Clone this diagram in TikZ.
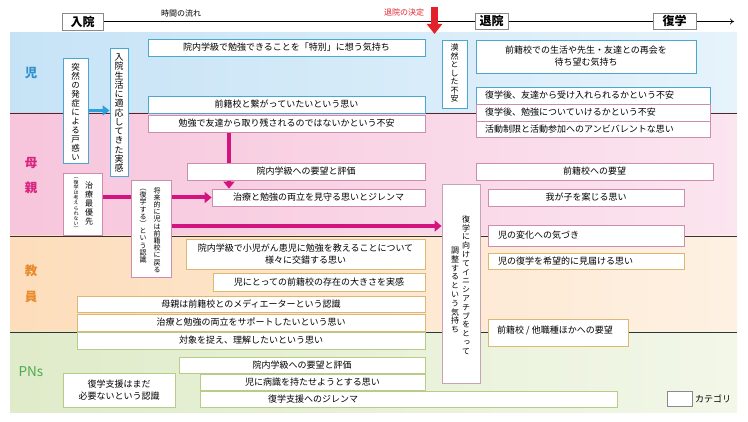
\documentclass[tikz,border=0pt]{standalone}
\usepackage{fontspec}
\setmainfont{Noto Sans CJK JP}
\newfontfamily\vjp[RawFeature=+vert]{Noto Sans CJK JP}
\usetikzlibrary{arrows.meta}
\definecolor{cBlueBandA}{HTML}{C6E3F6}
\definecolor{cBlueBandB}{HTML}{E6F3FB}
\definecolor{cPinkBandA}{HTML}{F7C5DC}
\definecolor{cPinkBandB}{HTML}{FBE5EF}
\definecolor{cOrBandA}{HTML}{FDDDBB}
\definecolor{cOrBandB}{HTML}{FEF1E3}
\definecolor{cGrBandA}{HTML}{DFEBC9}
\definecolor{cGrBandB}{HTML}{F2F7E8}
\definecolor{cBlueB}{HTML}{4BA7D0}
\definecolor{cPinkB}{HTML}{CC8DAE}
\definecolor{cOrB}{HTML}{DDB873}
\definecolor{cGrB}{HTML}{B7CC86}
\definecolor{cTall}{HTML}{C8A3B6}
\definecolor{cMag}{HTML}{D4147E}
\definecolor{cBlueA}{HTML}{2BA0DC}
\definecolor{cRed}{HTML}{E3212B}
\definecolor{cLblBlue}{HTML}{2E90CC}
\definecolor{cLblPink}{HTML}{D8237F}
\definecolor{cLblOr}{HTML}{E88A2C}
\definecolor{cLblGr}{HTML}{4DAA4D}
\definecolor{cGrayB}{HTML}{8A8A8A}
\makeatletter
\def\vt@loop#1{\ifx\relax#1\else\hbox to 1em{\hss#1\hss}\expandafter\vt@loop\fi}
\newcommand\vcol[2]{\vbox{\baselineskip=#1\lineskip=0pt\lineskiplimit=-\maxdimen\vt@loop#2\relax}}
\makeatother
\newcommand\bx[7][]{\node[box,#1,minimum width={(#5-#3)*1pt},minimum height={(#6-#4)*1pt}] (#2) at ({(#3+#5)/2},{(#4+#6)/2}) {#7};}
\pgfdeclarelayer{bg}
\pgfdeclarelayer{mid}
\pgfsetlayers{bg,mid,main}
\tikzset{
  box/.style={draw, fill=white, line width=0.8pt, inner sep=0pt, align=center, font=\fontsize{9}{12}\selectfont},
  bb/.style={draw=cBlueB},
  pb/.style={draw=cPinkB},
  ob/.style={draw=cOrB},
  gb/.style={draw=cGrB},
  tb/.style={draw=cGrayB, font=\fontsize{12}{12}\bfseries\selectfont},
  lbl/.style={anchor=west, inner sep=0pt, font=\fontsize{9}{12}\selectfont},
  vtx/.style={inner sep=0pt},
  band/.style={font=\fontsize{12.5}{13}\bfseries\selectfont, inner sep=0pt},
  sep/.style={draw=black!80, line width=0.7pt},
  marrow/.style={draw=cMag, line width=4pt, -{Triangle[length=7pt,width=11pt]}},
  barrow/.style={draw=cBlueA, line width=3.5pt, -{Triangle[length=7pt,width=10pt]}},
}
\begin{document}
\begin{tikzpicture}[x=1pt,y=-1pt]
\useasboundingbox (0,0) rectangle (748,422);
% bands
\begin{pgfonlayer}{bg}
\shade[left color=cBlueBandA, right color=cBlueBandB] (10,33) rectangle (737,113);
\shade[left color=cPinkBandA, right color=cPinkBandB] (10,113) rectangle (737,236);
\shade[left color=cOrBandA, right color=cOrBandB] (10,236) rectangle (737,332);
\shade[left color=cGrBandA, right color=cGrBandB] (10,332) rectangle (737,413);
\draw[sep] (10,113) -- (737,113);
\draw[sep] (10,236) -- (737,236);
\draw[sep] (10,332) -- (737,332);
\end{pgfonlayer}
% band labels
\node[band, text=cLblBlue] (lj) at (31,73) {児};
\node[band, text=cLblPink] (lm1) at (31,163) {母};
\node[band, text=cLblPink] (lm2) at (31,188) {親};
\node[band, text=cLblOr] (lk1) at (31,271) {教};
\node[band, text=cLblOr] (lk2) at (31,297) {員};
\node[band, text=cLblGr, font=\fontsize{13.5}{14}\selectfont] (lp) at (31,372) {PNs};
% timeline
\bx[tb]{nyuin}{62}{13}{103}{30}{入院}
\bx[tb]{taiin}{475}{13}{508}{29}{退院}
\bx[tb]{fukugaku}{653}{13}{696}{29}{復学}
\coordinate (tlend) at (734,21.5);
\begin{pgfonlayer}{mid}
\draw[line width=0.6pt, -{To[length=4pt,width=6pt]}] (nyuin.east) -- (tlend);
\end{pgfonlayer}
\node[font=\fontsize{8}{9}\selectfont, inner sep=0pt] (flow) at (181,13) {時間の流れ};
\node[font=\fontsize{8}{9}\selectfont, inner sep=0pt, text=cRed] (kettei) at (404,12.5) {退院の決定};
\coordinate (r0) at (434.5,7);
\coordinate (r1) at (434.5,34);
\draw[line width=7pt, draw=cRed, -{Triangle[length=10pt,width=15pt]}] (r0) -- (r1);
% child band boxes
\bx[bb]{b1}{63}{58}{88}{163}{}
\node[vtx, font=\vjp\fontsize{8.5}{9}\selectfont] (t1) at (75.5,112) {\vcol{9pt}{突然の発症による戸惑い}};
\bx[bb]{b2}{110}{48}{128}{176}{}
\node[vtx, font=\vjp\fontsize{9}{9}\selectfont] (t2) at (119,113) {\vcol{9.25pt}{入院生活に適応してきた実感}};
\bx[bb]{b3}{148}{39}{425}{56}{院内学級で勉強できることを「特別」に想う気持ち}
\bx[bb]{b4}{148}{96}{425}{113}{前籍校と繋がっていたいという思い}
\bx[pb]{b5}{148}{115}{425}{132}{勉強で友達から取り残されるのではないかという不安}
\bx[bb]{b7}{442}{40}{467}{108}{}
\node[vtx, font=\vjp\fontsize{8}{8}\selectfont] (t7) at (454.5,73) {\vcol{8.5pt}{漠然とした不安}};
\bx[bb]{b8}{476}{40}{696}{73}{前籍校での生活や先生・友達との再会を\\待ち望む気持ち}
\bx[bb]{b9}{476}{87}{710}{104}{}
\node[lbl] (t9) at (485,95.5) {復学後、友達から受け入れられるかという不安};
\bx[pb]{b10}{476}{104}{710}{121}{}
\node[lbl] (t10) at (485,112.5) {復学後、勉強についていけるかという不安};
\bx[pb]{b11}{476}{121}{710}{137}{}
\node[lbl] (t11) at (485,129) {活動制限と活動参加へのアンビバレントな思い};
% mother band
\bx[pb]{b13}{187}{163}{425}{180}{院内学級への要望と評価}
\bx[pb]{b14}{212}{189}{425}{206}{治療と勉強の両立を見守る思いとジレンマ}
\bx[pb]{b15}{63}{173}{102}{235}{}
\node[vtx, font=\vjp\fontsize{8}{8}\selectfont] (t15a) at (89,203.5) {\vcol{9.2pt}{治療最優先}};
\node[vtx, font=\vjp\fontsize{5}{5}\selectfont] (t15b) at (76,204.5) {\vcol{5.2pt}{（復学は考えられない）}};
\bx[pb]{b17}{131}{180}{171}{277}{}
\node[vtx, anchor=north, font=\vjp\fontsize{7}{7}\selectfont] (t17a) at (157,187) {\vcol{7.2pt}{将来的に児は前籍校に戻る}};
\node[vtx, anchor=north, font=\vjp\fontsize{7}{7}\selectfont] (t17b) at (143,189) {\vcol{7.2pt}{（復学する）という認識}};
\bx[pb]{b19}{476}{163}{713}{180}{前籍校への要望}
\bx[pb]{b20}{488}{189}{684}{206}{我が子を案じる思い}
\bx[draw=cTall]{b21}{442}{184}{480}{383}{}
\node[vtx, font=\vjp\fontsize{8}{8}\selectfont] (t21a) at (466,285) {\vcol{8.8pt}{復学に向けてイニシアチブをとって}};
\node[vtx, font=\vjp\fontsize{8}{8}\selectfont] (t21b) at (455,290) {\vcol{8.8pt}{調整するという気持ち}};
\bx[pb]{b22}{488}{225}{684}{246}{}
\node[lbl] (t22) at (498,235.5) {児の変化への気づき};
% teacher band
\bx[ob]{b23}{488}{253}{684}{269}{}
\node[lbl] (t23) at (498,261) {児の復学を希望的に見届ける思い};
\bx[ob]{b24}{186}{239}{425}{269}{院内学級で小児がん患児に勉強を教えることについて\\様々に交錯する思い}
\bx[ob]{b25}{213}{273}{425}{291}{児にとっての前籍校の存在の大きさを実感}
\bx[ob]{b26}{77}{296}{425}{312}{母親は前籍校とのメディエーターという認識}
\bx[ob]{b27}{77}{314}{425}{331}{治療と勉強の両立をサポートしたいという思い}
\bx[ob]{b28}{488}{319}{628}{346}{}
\node[lbl] (t28) at (497,331) {前籍校 / 他職種ほかへの要望};
% PNs band
\bx[gb]{b29}{77}{332}{425}{349}{対象を捉え、理解したいという思い}
\bx[gb]{b30}{179}{357}{425}{373}{院内学級への要望と評価}
\bx[gb]{b31}{200}{374}{425}{390}{児に病識を持たせようとする思い}
\bx[gb]{b32}{200}{391}{617}{407}{}
\node[vtx, font=\fontsize{9}{12}\selectfont] (t32) at (313,399) {復学支援へのジレンマ};
\bx[gb]{b33}{63}{373}{175}{407}{復学支援はまだ\\必要ないという認識}
% legend
\bx[draw=cGrayB]{leg}{667}{391}{692}{406}{}
\node[lbl] (legt) at (695,398.5) {カテゴリ};
% connectors
\coordinate (a1s) at (229,132);
\coordinate (a3s) at ([yshift=2.5pt]b17.east);
\begin{pgfonlayer}{mid}
\draw[barrow] (b1.east) -- (b1.east -| b2.west);
\draw[marrow] (a1s) -- (a1s |- b14.north);
\draw[marrow] (b15.east |- b14.west) -- (b14.west);
\draw[marrow] (a3s) -- (a3s -| b21.west);
\end{pgfonlayer}
\end{tikzpicture}
\end{document}
